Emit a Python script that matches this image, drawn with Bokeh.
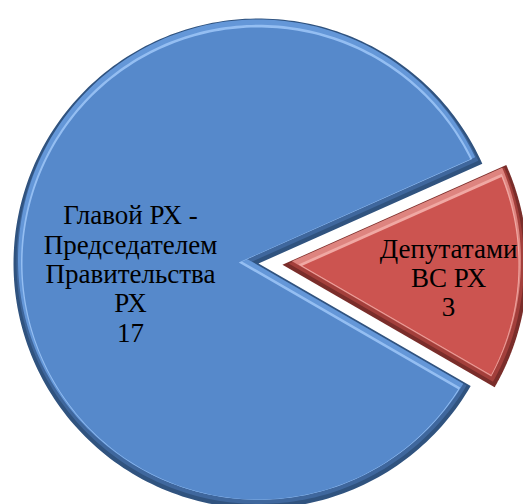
import numpy as np
from bokeh.plotting import figure
from bokeh.models import Range1d
from bokeh.embed import file_html
from bokeh.resources import INLINE
from bokeh.core.properties import value

# ---- data ----
categories = ["Главой РХ -\nПредседателем\nПравительства\nРХ", "Депутатами\nВС РХ"]
values = [17, 3]

# ---- layout (pixel units, y pointing up) ----
W, H = 523, 504
CX, CY = 258.0, -263.0
R = 245.0
FIRST_ANGLE = 120.0          # degrees clockwise from 12 o'clock
EXPLODE = [0.0, 24.0]
LABEL_FRAC = [0.523, 0.679]
LABEL_DY = [-15.7, -3.0]
FONT_PX = 27
LINE_STEP = 29.3
BASELINE_DROP = 1.5

palettes = [
    # (inset, dx, dy, colour)
    [(0, 0, 0, "#30537F"), (3, 0, 1.5, "#3F679D"), (5, -0.5, 4, "#6497D8"),
     (7.5, 0, 1.2, "#94BEF2"), (9, 0, 0, "#5689CB")],
    [(0, 0, 0, "#7A2D2A"), (3, -0.5, 1.5, "#A33F3B"), (5, -1.5, 4, "#DE847F"),
     (7.5, -0.5, 1.2, "#F0A8A3"), (9, 0, 0, "#CC5450")],
]


def wedge_poly(cx, cy, r, a_start, a_end, inset=0.0, dx=0.0, dy=0.0, n=240):
    """Wedge drawn clockwise from a_start to a_end (radians, a_end < a_start)."""
    span = a_start - a_end
    rr = r - inset
    delta = np.arcsin(inset / rr) if inset > 0 else 0.0
    th = np.linspace(a_start - delta, a_end + delta, n)
    mid = (a_start + a_end) / 2.0
    t = inset / np.sin(span / 2.0) if inset > 0 else 0.0
    vx = cx + t * np.cos(mid)
    vy = cy + t * np.sin(mid)
    xs = np.concatenate([[vx], cx + rr * np.cos(th)]) + dx
    ys = np.concatenate([[vy], cy + rr * np.sin(th)]) + dy
    return list(xs), list(ys)


p = figure(width=W, height=H, x_range=Range1d(0, W), y_range=Range1d(-H, 0),
           output_backend="svg", toolbar_location=None, min_border=0)
p.axis.visible = False
p.grid.visible = False
p.outline_line_color = None
p.background_fill_color = "white"
p.border_fill_color = "white"

total = float(sum(values))
cum = 0.0
tx, ty, tt = [], [], []
for i, v in enumerate(values):
    start_cw = FIRST_ANGLE + 360.0 * cum / total
    end_cw = FIRST_ANGLE + 360.0 * (cum + v) / total
    cum += v
    a_start = np.radians(90.0 - start_cw)
    a_end = np.radians(90.0 - end_cw)
    mid = (a_start + a_end) / 2.0
    cx = CX + EXPLODE[i] * np.cos(mid)
    cy = CY + EXPLODE[i] * np.sin(mid)
    for inset, dx, dy, col in palettes[i]:
        xs, ys = wedge_poly(cx, cy, R, a_start, a_end, inset, dx, dy)
        p.patch(xs, ys, fill_color=col, line_color=None)
    lx = cx + LABEL_FRAC[i] * R * np.cos(mid)
    ly = cy + LABEL_FRAC[i] * R * np.sin(mid) + LABEL_DY[i]
    lines = f"{categories[i]}\n{v}".split("\n")
    n = len(lines)
    for k, line in enumerate(lines):
        tx.append(lx)
        ty.append(ly - (k - (n - 1) / 2.0) * LINE_STEP - BASELINE_DROP)
        tt.append(line)

p.text(x=tx, y=ty, text=tt, text_align="center", text_baseline="alphabetic",
       text_font=value("Liberation Serif"), text_font_size=f"{FONT_PX}px",
       text_color="black")

open("out.html", "w").write(file_html(p, INLINE))
